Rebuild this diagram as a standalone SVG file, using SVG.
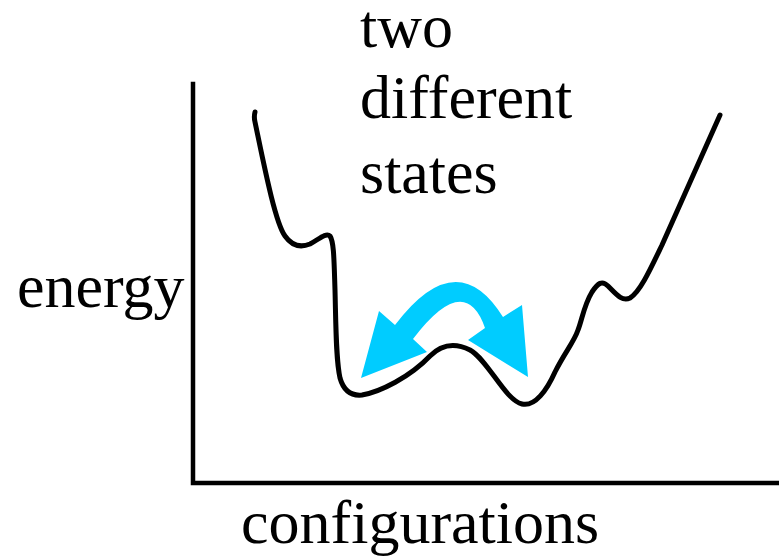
<svg xmlns="http://www.w3.org/2000/svg" width="779" height="558" viewBox="0 0 779 558">
<rect width="779" height="558" fill="#fff"/>
<g id="axes" fill="none" stroke="#000" stroke-width="4.5" stroke-linecap="square">
<path d="M193,84 L193,483 L779,483"/>
</g>
<g id="labels" fill="#000">
<text x="360" y="47" font-size="62" font-family="'Times New Roman', serif">two</text>
<text x="360" y="118" font-size="62" font-family="'Times New Roman', serif">different</text>
<text x="360" y="193" font-size="62" font-family="'Times New Roman', serif">states</text>
<text x="17" y="307" font-size="62" font-family="'Times New Roman', serif">energy</text>
<text x="241" y="543" font-size="62" font-family="'Times New Roman', serif">configurations</text>
</g>
<g id="energy-curve" fill="none" stroke="#000" stroke-width="5" stroke-linecap="round" stroke-linejoin="round">
<path d="M255,112 C254,116 254,118 255,122 C264,165 275,222 285,236 C292,246 300,248 310,244 C318,240 326,232 330,236 C334,242 334,260 335,290 C336,330 336,360 340,378 C344,392 352,396 362,395 C380,392 410,377 430,356 C445,341 460,345 470,350 C488,360 505,400 522,404 C535,407 547,390 555,372 C565,352 574,342 578,330 C582,320 584,305 592,292 C598,283 602,280 608,286 C616,294 622,302 630,298 C640,292 650,270 662,245 L720,115"/>
</g>
<g id="transition-arrow">
<path fill="#00CCFF" d="M361,378 L379,311 L395,325 Q457,243 503,317 L522,305 L528,377 L468,340 L485,328 Q465,270.5 413,339 L427,352 Z"/>
</g>
</svg>
